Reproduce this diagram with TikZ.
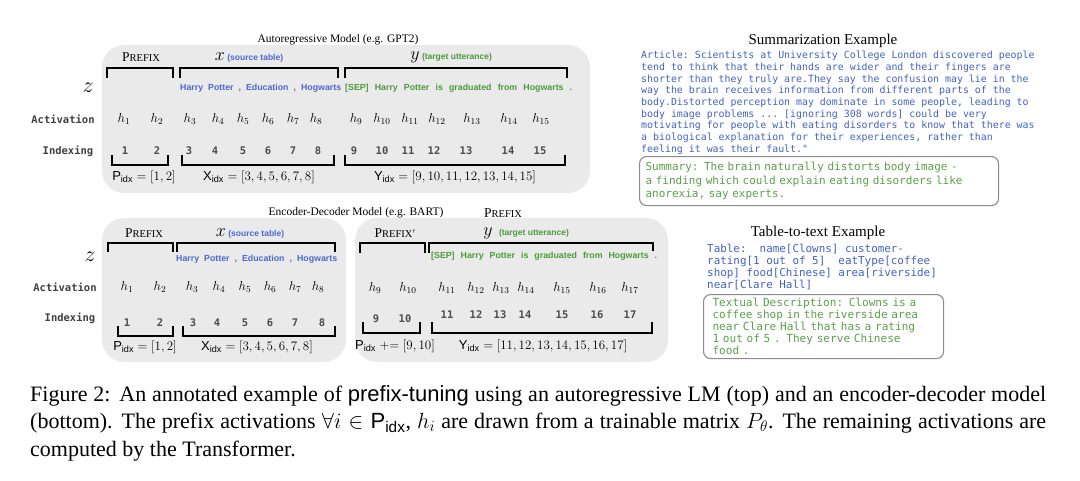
\RequirePackage{fix-cm}
\documentclass[tikz,border=0pt]{standalone}
\usepackage{amsmath}
\usepackage[no-math]{fontspec}
\setmainfont{Liberation Serif}
\setsansfont{Liberation Sans}
\setmonofont{DejaVu Sans Mono}
\usepackage{xcolor}
\definecolor{panelGray} {HTML}{EAEAEA}
\definecolor{srcBlue}   {HTML}{4A6AD0}
\definecolor{tgtGreen}  {HTML}{4A9A3A}
\definecolor{artBlue}   {HTML}{4262C4}
\definecolor{sumGreen}  {HTML}{5AA048}
\definecolor{boxLine}   {HTML}{8C8C8C}
\usetikzlibrary{positioning}
\newcommand{\prefixsc}{{\fontsize{13.5}{14}\selectfont P\fontsize{10.5}{11}\selectfont REFIX}}
\tikzset{
    panel/.style={fill=panelGray, rounded corners=22pt},
    title/.style={font=\fontsize{11.5}{13}\selectfont, inner sep=0pt},
    bigtitle/.style={font=\fontsize{15}{17}\selectfont, inner sep=0pt},
    pfx/.style={font=\rmfamily, inner sep=0pt},
    seqvar/.style={font=\fontsize{18}{20}\selectfont, inner sep=0pt},
    seqnote/.style={font=\sffamily\bfseries\fontsize{8.5}{10}\selectfont,
                    inner sep=0pt, anchor=base west},
    zvar/.style={font=\fontsize{22}{24}\selectfont, inner sep=0pt},
    rowlabel/.style={font=\ttfamily\bfseries\fontsize{10.5}{12}\selectfont,
                     text=black!75, inner sep=0pt},
    act/.style={font=\fontsize{13}{14}\selectfont, inner sep=0pt},
    idx/.style={font=\ttfamily\bfseries\fontsize{10.5}{12}\selectfont,
                text=black!70, inner sep=0pt},
    tokens/.style={font=\sffamily\bfseries\fontsize{8.8}{10}\selectfont,
                   inner sep=0pt, anchor=west, align=left},
    brace/.style={line width=1.6pt},
    idxset/.style={font=\fontsize{13}{14}\selectfont, inner sep=0pt},
    mono/.style={font=\ttfamily\fontsize{9.9}{11.67}\selectfont,
                 inner sep=0pt, anchor=north west, align=left},
    examplebox/.style={draw=boxLine, line width=1.1pt, rounded corners=7pt,
                       anchor=north west, align=left, text=sumGreen},
}

\begin{document}
\begin{tikzpicture}[x=1pt, y=-1pt]
\useasboundingbox (0,0) rectangle (1080,480);
% Grey panels behind the three sequences.
\path[panel] (102,45) rectangle (590,193);
\path[panel] (102,218) rectangle (346,362);
\path[panel] (355,218) rectangle (668,362);

% Autoregressive model: prefix, source table and target in one sequence.
\node[title] (artitle) at (338,40) {Autoregressive Model (e.g. GPT2)};
\node[pfx] (arpfx) at (141,57) {\prefixsc};
\node[seqvar] (arx) at (220,57) {$x$};
\node[seqnote, text=srcBlue] (arxnote) at ([xshift=2pt]arx.base east) {(source table)};
\node[seqvar] (ary) at (415,57) {$y$};
\node[seqnote, text=tgtGreen] (arynote) at ([xshift=2pt]ary.base east) {(target utterance)};
\draw[brace] (107,78) |- (173,68) -- (173,78);
\draw[brace] (180,78) |- (338,68) -- (338,78);
\draw[brace] (345,78) |- (567,68) -- (567,78);
\node[tokens, text=srcBlue, text width=161pt] (arsrc) at (180,88)
    {Harry\hfill Potter\hfill ,\hfill Education\hfill ,\hfill Hogwarts};
\node[tokens, text=tgtGreen, text width=227pt] (artgt) at (345,88)
    {[SEP]\hfill Harry\hfill Potter\hfill is\hfill graduated\hfill from\hfill Hogwarts\hfill .};
\node[zvar] (arz) at (88,88) {$z$};
\node[rowlabel] (aract) at (63,119) {Activation};
\node[rowlabel] (aridx) at (68,151) {Indexing};
\foreach \i/\x/\u in {1/124/125, 2/157/157, 3/190/189, 4/218/215, 5/243/243,
                      6/268/268, 7/293/293, 8/316/318, 9/356/354, 10/382/382,
                      11/410/408, 12/437/434, 13/472/466, 14/509/508, 15/541/540}{
    \node[act] (arh\i) at (\x,119) {$h_{\i}$};
    \node[idx] (ari\i) at (\u,151) {\i};
}
\draw[brace] (112,155) |- (168,165) -- (168,155);
\draw[brace] (182,155) |- (334,165) -- (334,155);
\draw[brace] (345,155) |- (565,165) -- (565,155);
\node[idxset] (arP) at (144,177) {$\textsf{P}_{\textsf{idx}} = [1,2]$};
\node[idxset] (arX) at (259,177) {$\textsf{X}_{\textsf{idx}} = [3,4,5,6,7,8]$};
\node[idxset] (arY) at (455,177) {$\textsf{Y}_{\textsf{idx}} = [9,10,11,12,13,14,15]$};

% Encoder-decoder model, encoder side.
\node[title] (edtitle) at (356,213) {Encoder-Decoder Model (e.g. BART)};
\node[pfx] (edpfxtop) at (503,213) {\prefixsc};
\node[pfx] (edpfx) at (144,233) {\prefixsc};
\node[seqvar] (edx) at (221,233) {$x$};
\node[seqnote, text=srcBlue] (edxnote) at ([xshift=2pt]edx.base east) {(source table)};
\draw[brace] (108,252) |- (173,243) -- (173,252);
\draw[brace] (177,252) |- (335,243) -- (335,252);
\node[tokens, text=srcBlue, text width=161pt] (edsrc) at (176,259)
    {Harry\hfill Potter\hfill ,\hfill Education\hfill ,\hfill Hogwarts};
\node[zvar] (edz) at (90,257) {$z$};
\node[rowlabel] (edact) at (65,287) {Activation};
\node[rowlabel] (edidx) at (70,318) {Indexing};
\foreach \i/\x/\u in {1/127/127, 2/160/160, 3/192/193, 4/219/217,
                      5/245/245, 6/270/270, 7/295/295, 8/318/322}{
    \node[act] (edh\i) at (\x,287) {$h_{\i}$};
    \node[idx] (edi\i) at (\u,323) {\i};
}
\draw[brace] (118,326) |- (173,336) -- (173,326);
\draw[brace] (183,326) |- (335,336) -- (335,326);
\node[idxset] (edP) at (145,347) {$\textsf{P}_{\textsf{idx}} = [1,2]$};
\node[idxset] (edX) at (257,347) {$\textsf{X}_{\textsf{idx}} = [3,4,5,6,7,8]$};

% Encoder-decoder model, decoder side.
\node[pfx] (dcpfx) at (395,233) {\prefixsc$'$};
\node[seqvar] (dcy) at (488,233) {$y$};
\node[seqnote, text=tgtGreen] (dcynote) at ([xshift=6pt]dcy.base east) {(target utterance)};
\draw[brace] (360,253) |- (425,243) -- (425,253);
\draw[brace] (429,253) |- (653,243) -- (653,251);
\node[tokens, text=tgtGreen, text width=226pt] (dctgt) at (431,256)
    {[SEP]\hfill Harry\hfill Potter\hfill is\hfill graduated\hfill from\hfill Hogwarts\hfill .};
\foreach \i/\x in {9/375, 10/408, 11/447, 12/476, 13/501,
                   14/526, 15/562, 16/598, 17/630}{
    \node[act] (dch\i) at (\x,288) {$h_{\i}$};
}
\node[idx] (dci9) at (376,319) {9};
\node[idx] (dci10) at (405,319) {10};
\foreach \i/\u in {11/447, 12/476, 13/500, 14/525, 15/562, 16/597, 17/630}{
    \node[idx] (dci\i) at (\u,315) {\i};
}
\draw[brace] (363,322) |- (420,333) -- (420,322);
\draw[brace] (432,322) |- (652,333) -- (652,322);
\node[idxset] (dcP) at (395,346) {$\textsf{P}_{\textsf{idx}} \mathrel{+}= [9,10]$};
\node[idxset] (dcY) at (543,346) {$\textsf{Y}_{\textsf{idx}} = [11,12,13,14,15,16,17]$};

% Summarization example.
\node[bigtitle] (sumtitle) at (823,41) {Summarization Example};
\node[mono, text=artBlue] (article) at (641,51) {Article: Scientists at University College London discovered people\\
tend to think that their hands are wider and their fingers are\\
shorter than they truly are.They say the confusion may lie in the\\
way the brain receives information from different parts of the\\
body.Distorted perception may dominate in some people, leading to\\
body image problems ... [ignoring 308 words] could be very\\
motivating for people with eating disorders to know that there was\\
a biological explanation for their experiences, rather than\\
feeling it was their fault."};
\node[examplebox, font=\ttfamily\fontsize{11}{13.3}\selectfont,
      minimum width=359pt, minimum height=49pt, text width=347pt,
      inner xsep=6pt, inner ysep=0pt] (summary) at (639,156)
    {Summary: The brain naturally distorts body image -\\
a finding which could explain eating disorders like\\
anorexia, say experts.};

% Table-to-text example.
\node[bigtitle] (tabtitle) at (818,233) {Table-to-text Example};
\node[mono, text=artBlue, font=\ttfamily\fontsize{10.9}{12.1}\selectfont] (table) at (707,244)
    {Table:~~name[Clowns] customer-\\
rating[1 out of 5]~~eatType[coffee\\
shop] food[Chinese] area[riverside]\\
near[Clare Hall]};
\node[examplebox, font=\ttfamily\fontsize{11.1}{11.9}\selectfont,
      minimum width=240pt, minimum height=64pt, text width=222pt,
      inner xsep=9pt, inner ysep=0pt] (textual) at (703,294)
    {Textual Description: Clowns is a\\
coffee shop in the riverside area\\
near Clare Hall that has a rating\\
1 out of 5 . They serve Chinese\\
food .};

% Caption.
\node[anchor=north west, inner sep=0pt, text width=1016pt, align=justify,
      font=\fontsize{22}{27.5}\selectfont] (caption) at (30,385)
    {Figure 2:\hspace{0.4em}An annotated example of \textsf{prefix-tuning} using an autoregressive LM (top) and an encoder-decoder model\linebreak
    (bottom). The prefix activations $\forall i \in \textsf{P}_{\textsf{idx}}$, $h_i$ are drawn from a trainable matrix $P_\theta$. The remaining activations are\linebreak
    computed by the Transformer.};
\end{tikzpicture}
\end{document}
